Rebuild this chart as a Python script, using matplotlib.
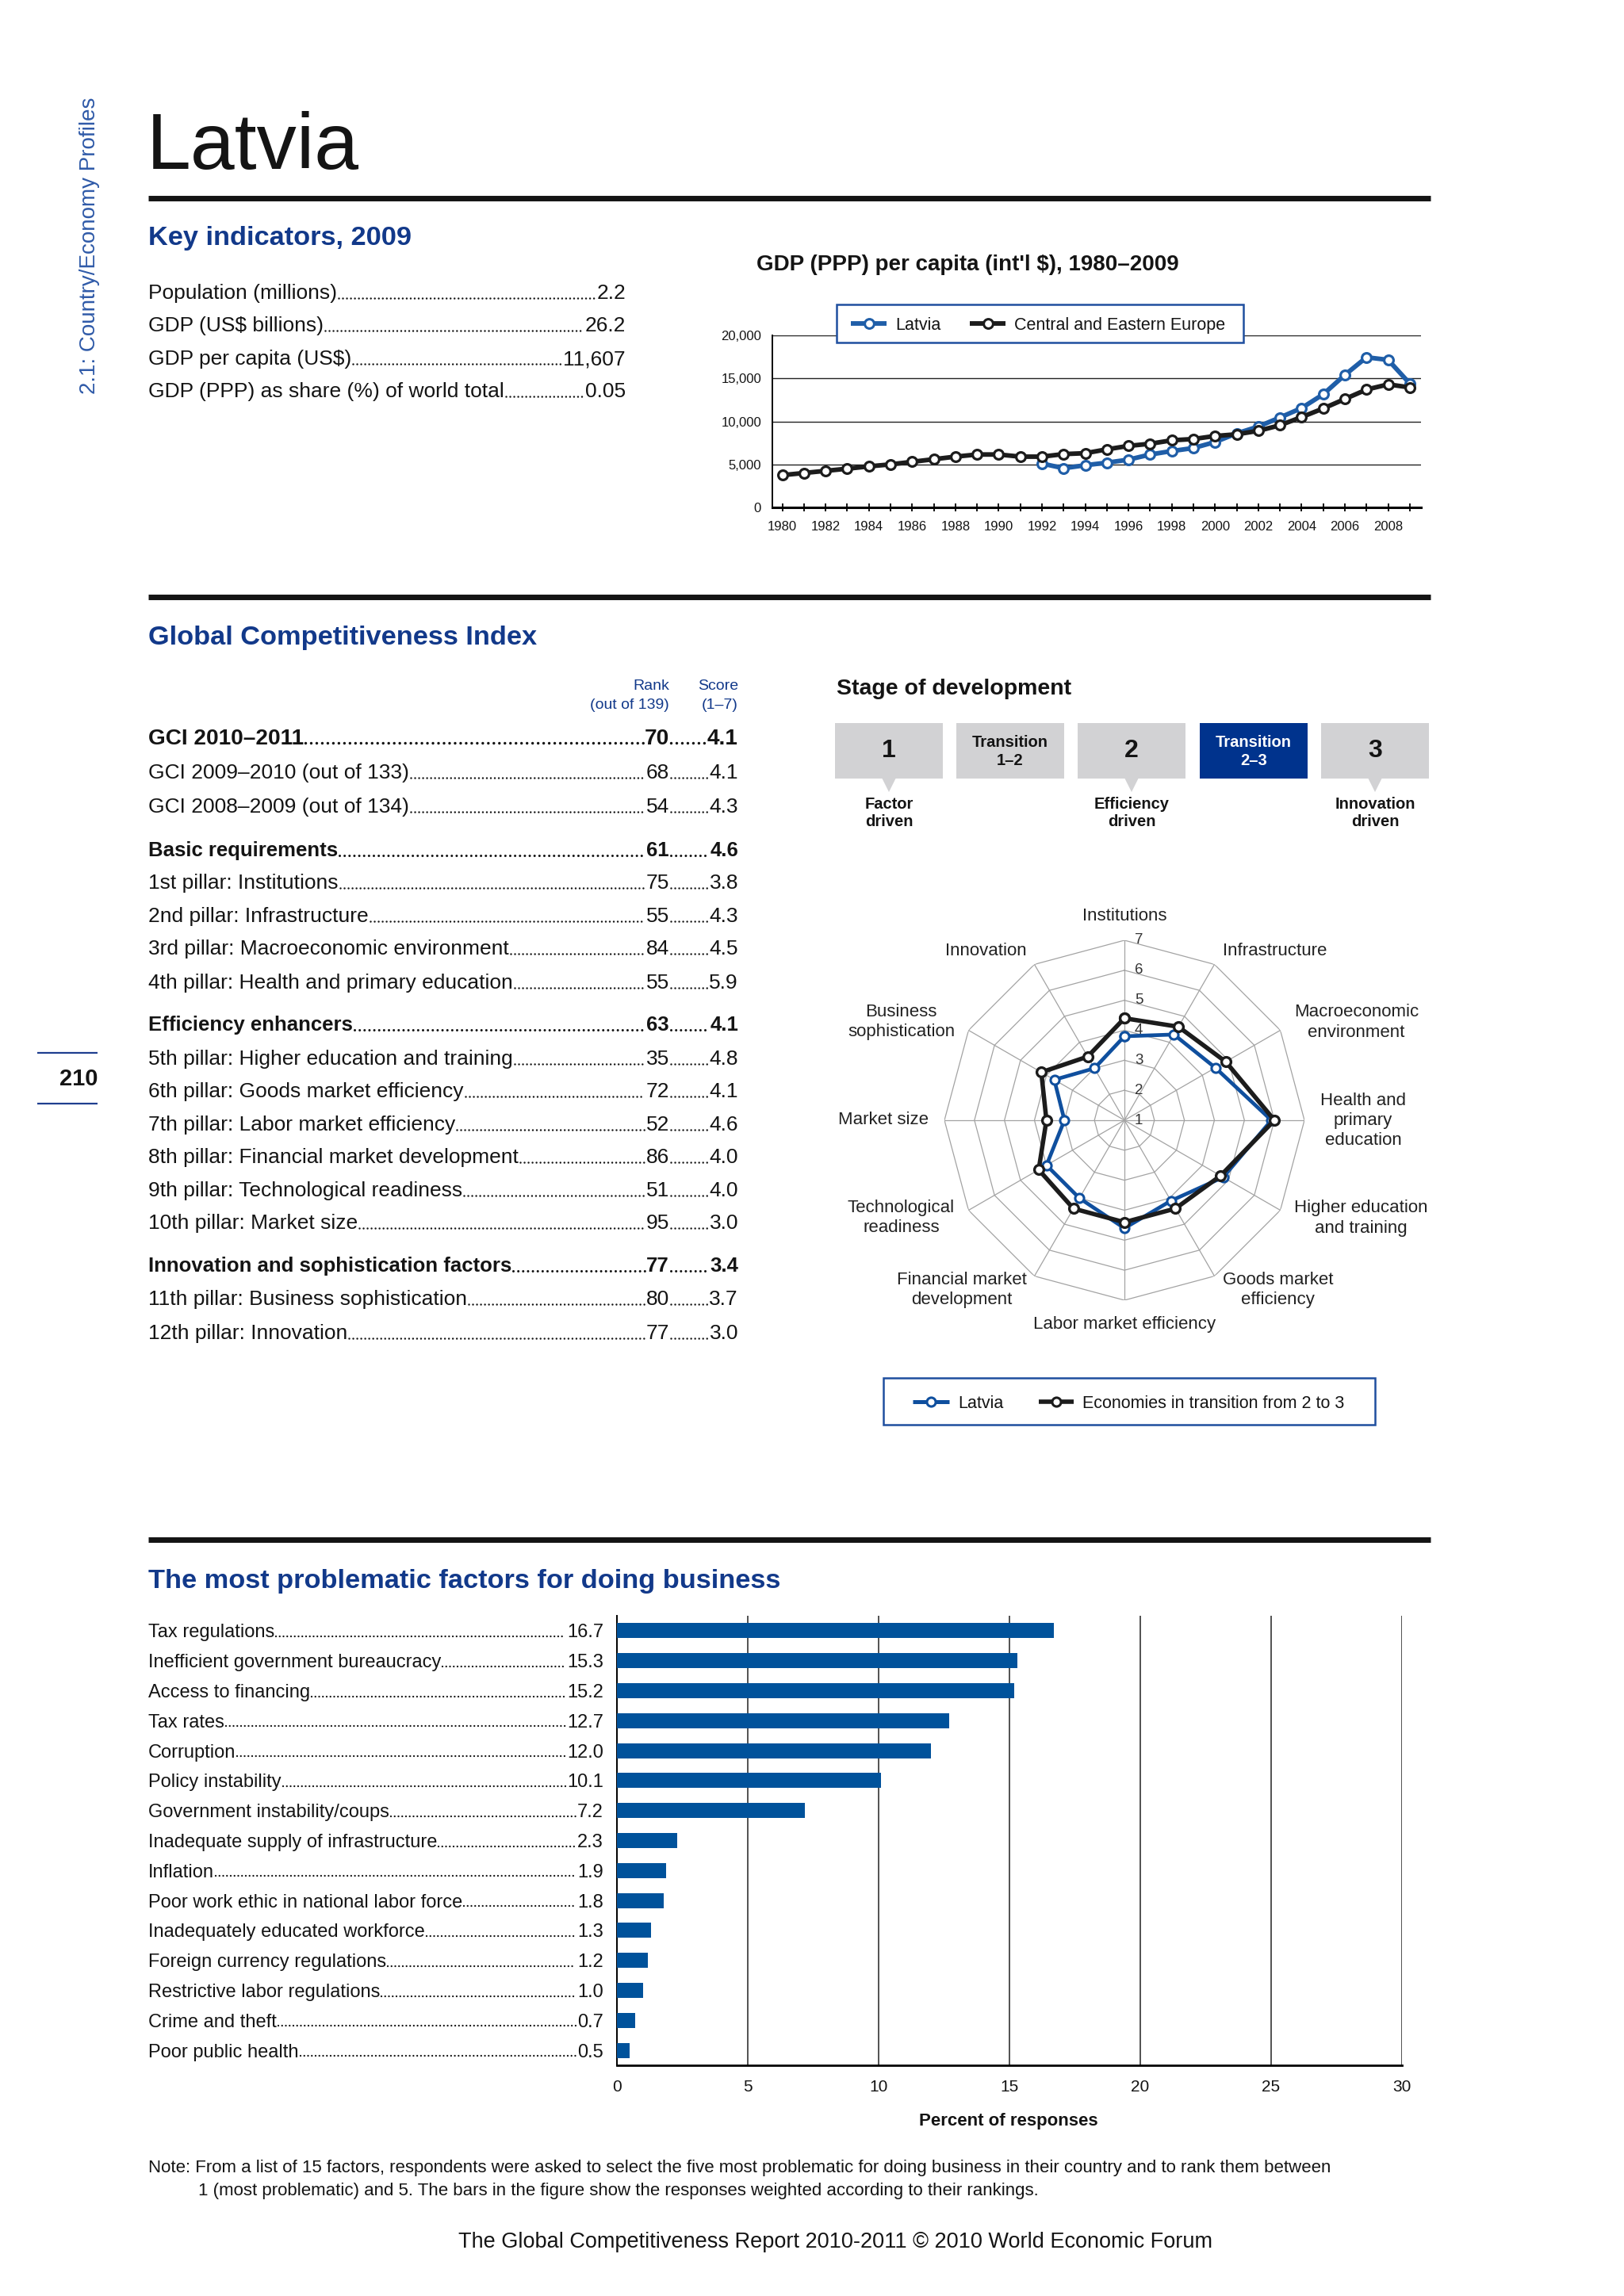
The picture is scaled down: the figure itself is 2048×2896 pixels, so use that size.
import numpy as np
import matplotlib
matplotlib.use('Agg')
import matplotlib.pyplot as plt
from matplotlib import font_manager
from matplotlib.lines import Line2D
from matplotlib.patches import Rectangle, Polygon
from matplotlib.ticker import FuncFormatter

# ---- data ----
key_labels = ["Population (millions)", "GDP (US$ billions)", "GDP per capita (US$)",
              "GDP (PPP) as share (%) of world total"]
key_values = ["2.2", "26.2", "11,607", "0.05"]

years = list(range(1980, 2010))
cee_gdp = [3750, 4000, 4250, 4500, 4770, 5000, 5300, 5600, 5900, 6150,
           6150, 5900, 5900, 6200, 6300, 6750, 7150, 7400, 7800, 7950,
           8300, 8500, 8900, 9550, 10500, 11500, 12600, 13700, 14300, 13950]
latvia_gdp = [np.nan] * 12 + [5100, 4550, 4900, 5200, 5550, 6150, 6550, 6900, 7600,
                              8600, 9400, 10450, 11550, 13150, 15400, 17450, 17150, 14400]

gci_labels = ["GCI 2010–2011", "GCI 2009–2010 (out of 133)", "GCI 2008–2009 (out of 134)",
              "Basic requirements", "1st pillar: Institutions", "2nd pillar: Infrastructure",
              "3rd pillar: Macroeconomic environment", "4th pillar: Health and primary education",
              "Efficiency enhancers", "5th pillar: Higher education and training",
              "6th pillar: Goods market efficiency", "7th pillar: Labor market efficiency",
              "8th pillar: Financial market development", "9th pillar: Technological readiness",
              "10th pillar: Market size", "Innovation and sophistication factors",
              "11th pillar: Business sophistication", "12th pillar: Innovation"]
gci_rank = [70, 68, 54, 61, 75, 55, 84, 55, 63, 35, 72, 52, 86, 51, 95, 77, 80, 77]
gci_score = ["4.1", "4.1", "4.3", "4.6", "3.8", "4.3", "4.5", "5.9", "4.1", "4.8",
             "4.1", "4.6", "4.0", "4.0", "3.0", "3.4", "3.7", "3.0"]
gci_bold = [0, 3, 8, 15]

stage_names = ["1", "Transition\n1–2", "2", "Transition\n2–3", "3"]
stage_notes = ["Factor\ndriven", "", "Efficiency\ndriven", "", "Innovation\ndriven"]
stage_current = 3

pillars = ["Institutions", "Infrastructure", "Macroeconomic\nenvironment",
           "Health and\nprimary\neducation", "Higher education\nand training",
           "Goods market\nefficiency", "Labor market efficiency",
           "Financial market\ndevelopment", "Technological\nreadiness", "Market size",
           "Business\nsophistication", "Innovation"]
latvia_pillars = [3.8, 4.3, 4.5, 5.9, 4.8, 4.1, 4.6, 4.0, 4.0, 3.0, 3.7, 3.0]
transition_pillars = [4.4, 4.6, 4.9, 6.0, 4.7, 4.4, 4.4, 4.4, 4.3, 3.6, 4.2, 3.45]

factors = ["Tax regulations", "Inefficient government bureaucracy", "Access to financing",
           "Tax rates", "Corruption", "Policy instability", "Government instability/coups",
           "Inadequate supply of infrastructure", "Inflation",
           "Poor work ethic in national labor force", "Inadequately educated workforce",
           "Foreign currency regulations", "Restrictive labor regulations",
           "Crime and theft", "Poor public health"]
factor_pct = [16.7, 15.3, 15.2, 12.7, 12.0, 10.1, 7.2, 2.3, 1.9, 1.8, 1.3, 1.2, 1.0, 0.7, 0.5]

# ---- style ----
W, H = 2048, 2896
installed = {f.name for f in font_manager.fontManager.ttflist}
SANS = 'Liberation Sans' if 'Liberation Sans' in installed else 'DejaVu Sans'
NARROW = 'Liberation Sans Narrow' if 'Liberation Sans Narrow' in installed else SANS
NS = 1.0 if NARROW != SANS else 0.84
plt.rcParams['font.family'] = [SANS, 'DejaVu Sans']

INK = '#141414'
HEAD_BLUE = '#12398a'
SIDE_BLUE = '#2f5aa8'
LAT_BLUE = '#1f5ea8'
RADAR_BLUE = '#0f4f9e'
BAR_BLUE = '#00529b'
STAGE_BLUE = '#00338d'
BOX_GRAY = '#d2d2d4'
EDGE_BLUE = '#1f4f9f'
DARK = '#1c1c1c'
GRID = '#a3a3a3'

fig = plt.figure(figsize=(W / 100, H / 100), dpi=100)
fig.patch.set_facecolor('white')
renderer = fig.canvas.get_renderer()


def cap(size):
    return 0.716 * size * 100 / 72


def txt(x, y, s, size, weight='normal', color=INK, ha='left', va='baseline', family=None, **kw):
    return fig.text(x / W, 1 - y / H, s, fontsize=size, fontweight=weight, color=color,
                    ha=ha, va=va, family=family or SANS, **kw)


def dots(t_left, t_right, y_base, lw=1.8, gap=2.0):
    # dot leader between two texts on one baseline
    bl = t_left.get_window_extent(renderer)
    br = t_right.get_window_extent(renderer)
    x0, x1 = bl.x1 + gap, br.x0 - gap
    yy = (H - y_base + lw * 0.75) / H
    fig.add_artist(Line2D([x0 / W, x1 / W], [yy, yy], transform=fig.transFigure, color=INK,
                          lw=lw, ls=(0, (0.01, 2.0)), dash_capstyle='round'))


def hline(y, x0, x1, lw, color=INK):
    fig.add_artist(Line2D([x0 / W, x1 / W], [1 - y / H, 1 - y / H], transform=fig.transFigure,
                          color=color, lw=lw, solid_capstyle='butt'))


def rect(x0, y0, x1, y1, fc, ec='none', lw=0):
    fig.add_artist(Rectangle((x0 / W, 1 - y1 / H), (x1 - x0) / W, (y1 - y0) / H,
                             transform=fig.transFigure, fc=fc, ec=ec, lw=lw))


def legend_entry(x0, x1, y, color, label, size, lw, ms):
    yy = 1 - y / H
    fig.add_artist(Line2D([x0 / W, x1 / W], [yy, yy], transform=fig.transFigure,
                          color=color, lw=lw, solid_capstyle='butt'))
    fig.add_artist(Line2D([(x0 + x1) / 2 / W], [yy], transform=fig.transFigure, ls='none',
                          marker='o', ms=ms, mfc='white', mec=color, mew=2.2))
    txt(x1 + 11, y, label, size, va='center_baseline')


# ---- header ----
txt(113, 310, "2.1: Country/Economy Profiles", 20, color=SIDE_BLUE, ha='center', va='center',
    rotation=90)
txt(185, 213, "Latvia", 86 * NS, family=NARROW)
hline(250, 187, 1804, 5)

txt(187, 309, "Key indicators, 2009", 29.5 * NS, weight='bold', color=HEAD_BLUE, family=NARROW)
for i, (lab, val) in enumerate(zip(key_labels, key_values)):
    base = [377, 418, 460, 501][i]
    t1 = txt(187, base, lab, 19)
    t2 = txt(789, base, val, 19, ha='right')
    dots(t1, t2, base)

# ---- GDP line chart ----
txt(1220, 341, "GDP (PPP) per capita (int'l $), 1980–2009", 20, weight='bold', ha='center')
ax = fig.add_axes([974 / W, 1 - 640 / H, (1791.5 - 974) / W, (640 - 423) / H])
ax.plot(years, latvia_gdp, color=LAT_BLUE, lw=4.2, marker='o', ms=8.5, mfc='white',
        mec=LAT_BLUE, mew=2.3, clip_on=False, zorder=3)
ax.plot(years, cee_gdp, color=DARK, lw=4.2, marker='o', ms=8.5, mfc='white',
        mec=DARK, mew=2.3, clip_on=False, zorder=4)
ax.set_xlim(1979.54, 2009.5)
ax.set_ylim(0, 20000)
ax.set_yticks([0, 5000, 10000, 15000, 20000])
ax.yaxis.set_major_formatter(FuncFormatter(lambda v, p: f"{int(v):,}"))
ax.set_xticks(range(1980, 2010, 2))
ax.set_xticks(range(1981, 2010, 2), minor=True)
ax.yaxis.grid(True, color='#222222', lw=1.0)
ax.set_axisbelow(True)
for s in ['top', 'right']:
    ax.spines[s].set_visible(False)
ax.spines['bottom'].set_linewidth(2.2)
ax.spines['left'].set_linewidth(1.4)
ax.tick_params(axis='x', which='both', direction='inout', length=7, width=1.4, pad=9,
               labelsize=12, colors=INK)
ax.tick_params(axis='y', length=0, pad=10, labelsize=12, colors=INK)
ax.patch.set_alpha(0)

rect(1055, 384, 1568, 432, 'white', EDGE_BLUE, 1.8)
legend_entry(1073, 1118, 408, LAT_BLUE, "Latvia", 15.5, 4.2, 8.5)
legend_entry(1223, 1268, 408, DARK, "Central and Eastern Europe", 15.5, 4.2, 8.5)

# ---- GCI table ----
hline(753, 187, 1804, 5)
txt(187, 813, "Global Competitiveness Index", 29.5 * NS, weight='bold', color=HEAD_BLUE,
    family=NARROW)
txt(844, 870, "Rank", 14, color=HEAD_BLUE, ha='right')
txt(844, 894, "(out of 139)", 14, color=HEAD_BLUE, ha='right')
txt(931, 870, "Score", 14, color=HEAD_BLUE, ha='right')
txt(931, 894, "(1–7)", 14, color=HEAD_BLUE, ha='right')

gci_y = [929, 973, 1016, 1071, 1112, 1154, 1195, 1238, 1291, 1334, 1375, 1417, 1458,
         1500, 1541, 1595, 1637, 1680]
for i, (lab, rk, sc) in enumerate(zip(gci_labels, gci_rank, gci_score)):
    if i == 0:
        kw = dict(size=24 * NS, weight='bold', family=NARROW)
        dlw = 2.5
    elif i in gci_bold:
        kw = dict(size=18.5, weight='bold')
        dlw = 2.2
    else:
        kw = dict(size=19)
        dlw = 1.8
    base = gci_y[i] + cap(kw['size']) / 2
    t1 = txt(187, base, lab, **kw)
    t2 = txt(844, base, str(rk), ha='right', **kw)
    t3 = txt(931, base, sc, ha='right', **kw)
    dots(t1, t2, base, lw=dlw)
    dots(t2, t3, base, lw=dlw)

# ---- stage of development ----
txt(1055, 876, "Stage of development", 20.5, weight='bold')
stage_x = [1053, 1206, 1359, 1513, 1666]
bw = 136
for i, (name, note) in enumerate(zip(stage_names, stage_notes)):
    x0 = stage_x[i]
    cur = i == stage_current
    rect(x0, 912, x0 + bw, 982, STAGE_BLUE if cur else BOX_GRAY)
    col = 'white' if cur else INK
    cx = x0 + bw / 2
    if '\n' in name:
        txt(cx, 948, name, 14.5, weight='bold', color=col, ha='center', va='center',
            linespacing=1.3)
    else:
        txt(cx, 947, name, 23, weight='bold', color=col, ha='center', va='center')
    if note:
        fig.add_artist(Polygon([((cx - 9) / W, 1 - 981 / H), ((cx + 9) / W, 1 - 981 / H),
                                (cx / W, 1 - 999 / H)], closed=True, transform=fig.transFigure,
                               fc=BOX_GRAY, ec='none'))
        txt(cx, 1026, note, 14.5, weight='bold', ha='center', va='center', linespacing=1.2)

# ---- radar ----
cx, cy, rad = 1418, 1413, 227
axr = fig.add_axes([(cx - rad) / W, 1 - (cy + rad) / H, 2 * rad / W, 2 * rad / H],
                   projection='polar')
axr.set_theta_zero_location('N')
axr.set_theta_direction(-1)
angles = np.linspace(0, 2 * np.pi, len(pillars), endpoint=False)
th = np.append(angles, angles[0])
for lvl in range(2, 8):
    axr.plot(th, [lvl] * len(th), color=GRID, lw=0.9, zorder=1)
for a in angles:
    axr.plot([a, a], [1, 7], color=GRID, lw=0.9, zorder=1)
for lvl in range(1, 8):
    axr.annotate(str(lvl), (0, lvl), xytext=(13, 0), textcoords='offset pixels', ha='left',
                 va='center', fontsize=13.5, color='#333333', zorder=2)
axr.plot(th, latvia_pillars + latvia_pillars[:1], color=RADAR_BLUE, lw=3.4, marker='o', ms=8,
         mfc='white', mec=RADAR_BLUE, mew=2.2, zorder=3)
axr.plot(th, transition_pillars + transition_pillars[:1], color=DARK, lw=4.0, marker='o', ms=8.5,
         mfc='white', mec=DARK, mew=2.4, zorder=4)
axr.set_ylim(1, 7)
axr.set_xticks([])
axr.set_yticks([])
axr.grid(False)
axr.spines['polar'].set_visible(False)
axr.patch.set_visible(False)
for a, lab in zip(angles, pillars):
    sx, sy = np.sin(a), np.cos(a)
    if abs(sx) < 0.3:
        ha, va = 'center', ('bottom' if sy > 0 else 'top')
    else:
        ha, va = ('left' if sx > 0 else 'right'), 'center'
    axr.annotate(lab, (a, 7), xytext=(20 * sx, 20 * sy), textcoords='offset pixels',
                 ha=ha, va=va, multialignment='center', fontsize=16, color='#222222',
                 annotation_clip=False, linespacing=1.25)

rect(1114, 1738, 1734, 1797, 'white', EDGE_BLUE, 1.8)
legend_entry(1151, 1197, 1768, RADAR_BLUE, "Latvia", 15.5, 3.6, 8)
legend_entry(1310, 1354, 1768, DARK, "Economies in transition from 2 to 3", 15.5, 4.0, 8)

# ---- page number ----
hline(1328, 47, 123, 1.6, color='#1f3f8f')
hline(1392, 47, 123, 1.6, color='#1f3f8f')
txt(123, 1361, "210", 21, weight='bold', ha='right', va='center')

# ---- problematic factors ----
hline(1942, 187, 1804, 5)
txt(187, 2003, "The most problematic factors for doing business", 29.5 * NS, weight='bold',
    color=HEAD_BLUE, family=NARROW)

axb = fig.add_axes([777.6 / W, 1 - 2605 / H, (1768 - 777.6) / W, (2605 - 2038) / H])
pos = np.arange(len(factors))
axb.barh(pos, factor_pct, height=0.5, color=BAR_BLUE, zorder=3)
axb.set_xlim(0, 30)
axb.set_ylim(len(factors) - 0.5, -0.5)
axb.set_xticks(range(0, 31, 5))
axb.set_yticks([])
axb.xaxis.grid(True, color='#222222', lw=1.1)
axb.set_axisbelow(True)
for s in ['top', 'right']:
    axb.spines[s].set_visible(False)
axb.spines['bottom'].set_linewidth(2.0)
axb.spines['left'].set_linewidth(1.4)
axb.tick_params(axis='x', length=0, pad=13, labelsize=15, colors=INK)
axb.patch.set_alpha(0)

for i, (lab, v) in enumerate(zip(factors, factor_pct)):
    yc = H - axb.transData.transform((0, i))[1]
    base = yc + cap(17) / 2
    t1 = txt(187, base, lab, 17)
    t2 = txt(761, base, f"{v:.1f}", 17, ha='right')
    dots(t1, t2, base, lw=1.7)

txt(1272, 2675, "Percent of responses", 16, weight='bold', ha='center', va='center')

txt(187, 2740, "Note: From a list of 15 factors, respondents were asked to select the five most "
    "problematic for doing business in their country and to rank them between", 16)
txt(250, 2769, "1 (most problematic) and 5. The bars in the figure show the responses weighted "
    "according to their rankings.", 16)
txt(1054, 2828, "The Global Competitiveness Report 2010-2011 © 2010 World Economic Forum", 19.5,
    ha='center', va='center')

fig.savefig('out.png', dpi=100, facecolor='white')
